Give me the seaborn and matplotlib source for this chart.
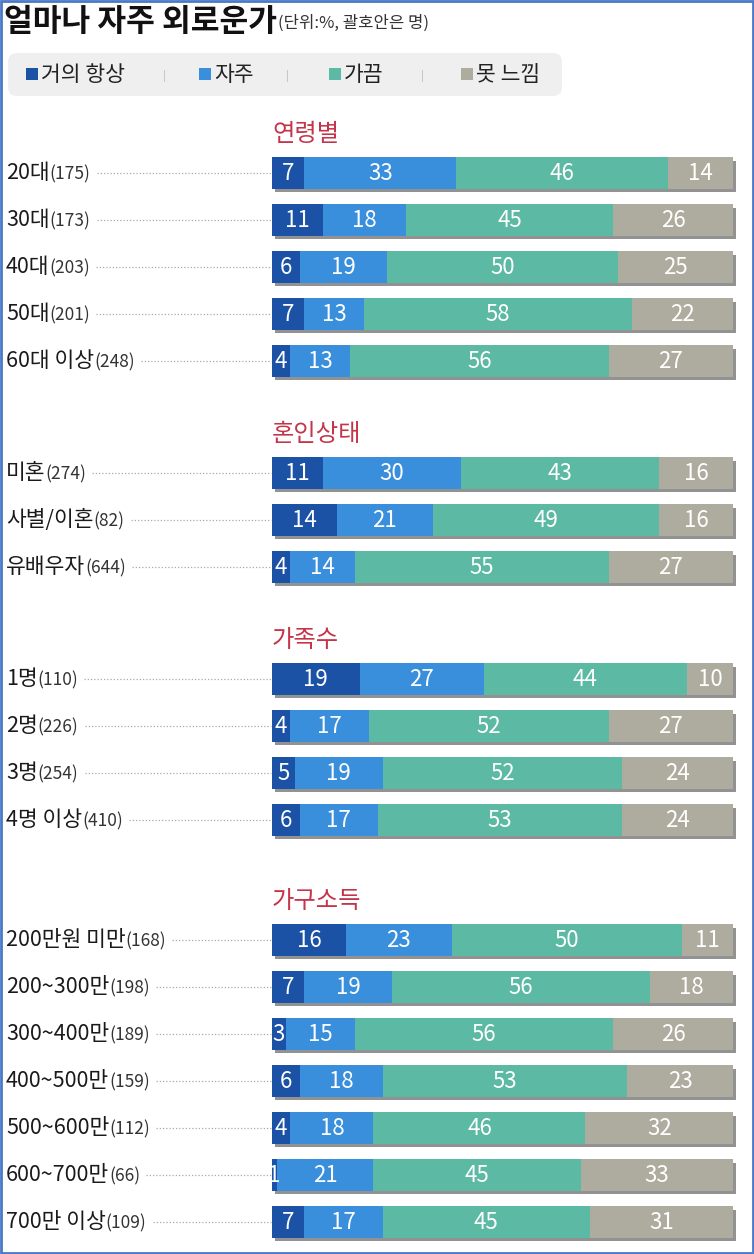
import pandas as pd
import matplotlib.pyplot as plt
import matplotlib.patches as mpatches
import matplotlib.patheffects as pe
import seaborn as sns

sns.set_theme(style='white')
plt.rcParams['font.family'] = ['Noto Sans CJK KR', 'DejaVu Sans']

# ====== data ======
answers = ['거의 항상', '자주', '가끔', '못 느낌']
groups = ['연령별', '혼인상태', '가족수', '가구소득']
labels = [
    ['20대', '30대', '40대', '50대', '60대 이상'],
    ['미혼', '사별/이혼', '유배우자'],
    ['1명', '2명', '3명', '4명 이상'],
    ['200만원 미만', '200~300만', '300~400만', '400~500만',
     '500~600만', '600~700만', '700만 이상'],
]
counts = [
    [175, 173, 203, 201, 248],
    [274, 82, 644],
    [110, 226, 254, 410],
    [168, 198, 189, 159, 112, 66, 109],
]
always    = [7, 11, 6, 7, 4, 11, 14, 4, 19, 4, 5, 6, 16, 7, 3, 6, 4, 1, 7]
often     = [33, 18, 19, 13, 13, 30, 21, 14, 27, 17, 19, 17, 23, 19, 15, 18, 18, 21, 17]
sometimes = [46, 45, 50, 58, 56, 43, 49, 55, 44, 52, 52, 53, 50, 56, 56, 53, 46, 45, 45]
never     = [14, 26, 25, 22, 27, 16, 16, 27, 10, 27, 24, 24, 11, 18, 26, 23, 32, 33, 31]

colors = ['#1b52a6', '#3a8fdc', '#5cb9a4', '#aeab9f']

# ====== layout (pixels) ======
W, H = 754, 1254
x0, x1 = 272, 733
pitch = 47
group_gap = [133, 72, 72, 80]
head_gap = 40

head_y, row_y = [], []
for g, labs in enumerate(labels):
    y = group_gap[g] if g == 0 else row_y[-1] + group_gap[g]
    head_y.append(y)
    for i in range(len(labs)):
        row_y.append(y + head_gap + i * pitch)

df = pd.DataFrame({
    'label': sum(labels, []), 'n': sum(counts, []), 'y': row_y,
    answers[0]: always, answers[1]: often, answers[2]: sometimes, answers[3]: never,
})
cum = df[answers].cumsum(axis=1)

fig = plt.figure(figsize=(W / 100, H / 100), dpi=100)
fig.patch.set_facecolor('white')

deco = fig.add_axes([0, 0, 1, 1])
deco.set_xlim(0, W)
deco.set_ylim(H, 0)
deco.axis('off')

ax = fig.add_axes([x0 / W, 0, (x1 - x0) / W, 1])

# stacked bars: draw cumulative totals from the back
for k in range(3, -1, -1):
    sns.barplot(x=cum[answers[k]], y=df['y'], orient='h', native_scale=True,
                color=colors[k], saturation=1, width=0.66, linewidth=0,
                errorbar=None, ax=ax)
    if k == 3:
        for p in ax.patches:
            p.set_clip_on(False)
            p.set_path_effects([pe.SimplePatchShadow(offset=(2.5, -2.5), shadow_rgbFace='#4a4a4a', alpha=0.6),
                                pe.Normal()])
ax.set_xlim(0, 100)
ax.set_ylim(H, 0)
ax.axis('off')

for _, r in df.iterrows():
    left = 0
    for a in answers:
        v = r[a]
        ax.text(left + v / 2, r['y'] + 7, str(v), ha='center', va='baseline',
                color='white', fontsize=16)
        left += v

# ====== title & legend ======
t = deco.text(4, 31, '얼마나 자주 외로운가', fontsize=22.5, fontweight='bold',
              va='baseline', color='#111111')
renderer = fig.canvas.get_renderer()
inv = deco.transData.inverted()


def right_edge(txt):
    bb = txt.get_window_extent(renderer)
    return inv.transform((bb.x1, bb.y0))[0]


deco.text(right_edge(t) + 1, 28, '(단위:%, 괄호안은 명)', fontsize=12,
          va='baseline', color='#333333')

deco.add_patch(mpatches.FancyBboxPatch((8, 53), 554, 43,
                                       boxstyle='round,pad=0,rounding_size=9',
                                       fc='#efefef', ec='none'))
sq_x = [26, 199, 329, 461]
sep_x = [164, 287, 422]
for k, a in enumerate(answers):
    deco.add_patch(mpatches.Rectangle((sq_x[k], 68), 12, 12, fc=colors[k], ec='none'))
    deco.text(sq_x[k] + 15, 81, a, fontsize=15.5, va='baseline', color='#222222')
for sx in sep_x:
    deco.text(sx, 79, '|', fontsize=8, va='baseline', ha='center', color='#bbbbbb')

# ====== headings & row labels ======
for g, name in enumerate(groups):
    deco.text(x0, head_y[g] + 8, name, fontsize=17.5, va='baseline', color='#c4354a')

for _, r in df.iterrows():
    yb = r['y'] + 6
    t1 = deco.text(6, yb, r['label'], fontsize=15.5, va='baseline', color='#1a1a1a')
    t2 = deco.text(right_edge(t1), yb, f"({r['n']})", fontsize=12.5,
                   va='baseline', color='#333333')
    deco.plot([right_edge(t2) + 6, x0 - 1], [r['y'], r['y']], ls=(0, (1, 1.6)),
              color='#aaaaaa', lw=0.9)

# frame
deco.add_patch(mpatches.Rectangle((1, 1), W - 2, H - 2, fill=False, ec='#4a78c8', lw=2))

plt.savefig('out.png', dpi=100)
